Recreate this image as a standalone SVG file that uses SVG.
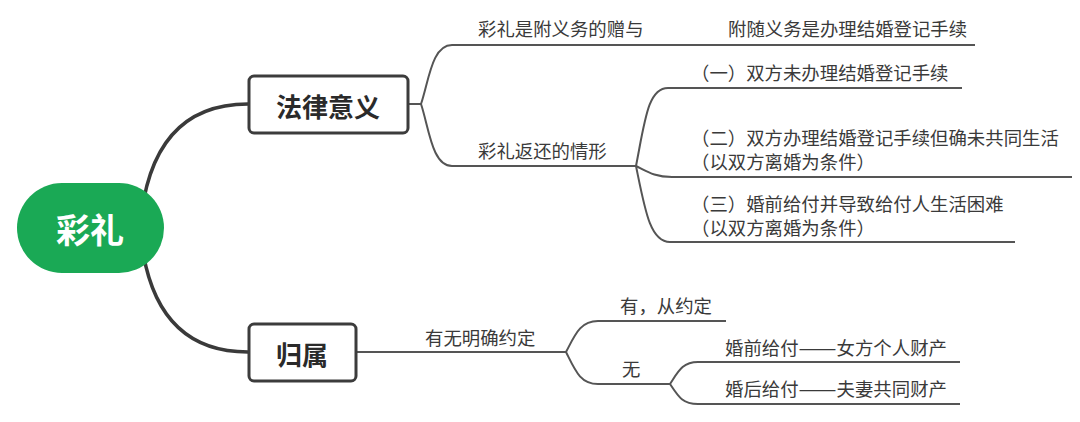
<svg xmlns="http://www.w3.org/2000/svg" width="1080" height="422" viewBox="0 0 1080 422">
<style>
.t{font-family:"Noto Sans CJK SC","Noto Sans",sans-serif;font-size:18.4px;fill:#3a3a3a;dominant-baseline:central}
.b{font-family:"Noto Sans CJK SC","Noto Sans",sans-serif;font-size:26px;font-weight:bold;fill:#2a2a2a;text-anchor:middle;dominant-baseline:central}
.box{fill:#fff;stroke:#3c3c3c;stroke-width:3}
.main{fill:none;stroke:#3a3a3a;stroke-width:3.5;stroke-linecap:round}
.thin{fill:none;stroke:#555;stroke-width:2}
</style>
<rect width="1080" height="422" fill="#fff"/>
<g id="connectors">
<path class="main" d="M140,228 Q150,104 248,104"/>
<path class="main" d="M140,228 Q150,352 248,352"/>
<path class="thin" d="M408,104 L421,104"/>
<path class="thin" d="M421,104 C429,80 432,45 452,45 L975,45"/>
<path class="thin" d="M421,104 C429,128 432,166 452,166 L636,166"/>
<path class="thin" d="M636,166 C645,120 648,88 668,88 L962,88"/>
<path class="thin" d="M636,166 C648,172 655,177 672,177 L1072,177"/>
<path class="thin" d="M636,166 C645,210 650,242 670,242 L1015,242"/>
<path class="thin" d="M356,352 L566,352"/>
<path class="thin" d="M566,352 C575,335 580,321 598,321 L726,321"/>
<path class="thin" d="M566,352 C575,370 580,384 598,384 L670,384"/>
<path class="thin" d="M670,384 C678,372 682,362 698,362 L960,362"/>
<path class="thin" d="M670,384 C678,396 682,404 698,404 L960,404"/>
</g>
<g id="root">
<rect x="17" y="183" width="147" height="90" rx="45" fill="#1aa955"/>
<text x="90" y="228" font-family="Noto Sans CJK SC,sans-serif" font-size="34" font-weight="bold" fill="#fff" text-anchor="middle" dominant-baseline="central">彩礼</text>
</g>
<g id="n-falv">
<rect class="box" x="249" y="76" width="159" height="57" rx="5"/>
<text class="b" x="328" y="105">法律意义</text>
</g>
<g id="n-guishu">
<rect class="box" x="249" y="324" width="107" height="57" rx="5"/>
<text class="b" x="302" y="353">归属</text>
</g>
<g id="n-fuyiwu"><text class="t" x="478" y="28">彩礼是附义务的赠与</text></g>
<g id="n-fusui"><text class="t" x="728" y="28">附随义务是办理结婚登记手续</text></g>
<g id="n-fanhuan"><text class="t" x="478" y="150">彩礼返还的情形</text></g>
<g id="n-yi"><text class="t" x="691" y="72">（一）双方未办理结婚登记手续</text></g>
<g id="n-er"><text class="t" x="691" y="137">（二）双方办理结婚登记手续但确未共同生活</text><text class="t" x="691" y="161">（以双方离婚为条件）</text></g>
<g id="n-san"><text class="t" x="691" y="203">（三）婚前给付并导致给付人生活困难</text><text class="t" x="691" y="227">（以双方离婚为条件）</text></g>
<g id="n-youwu"><text class="t" x="425" y="337">有无明确约定</text></g>
<g id="n-you"><text class="t" x="620" y="305">有，从约定</text></g>
<g id="n-wu"><text class="t" x="622" y="368">无</text></g>
<g id="n-hunqian"><text class="t" x="725" y="347">婚前给付<tspan textLength="38" lengthAdjust="spacingAndGlyphs">——</tspan>女方个人财产</text></g>
<g id="n-hunhou"><text class="t" x="725" y="388">婚后给付<tspan textLength="38" lengthAdjust="spacingAndGlyphs">——</tspan>夫妻共同财产</text></g>
</svg>
